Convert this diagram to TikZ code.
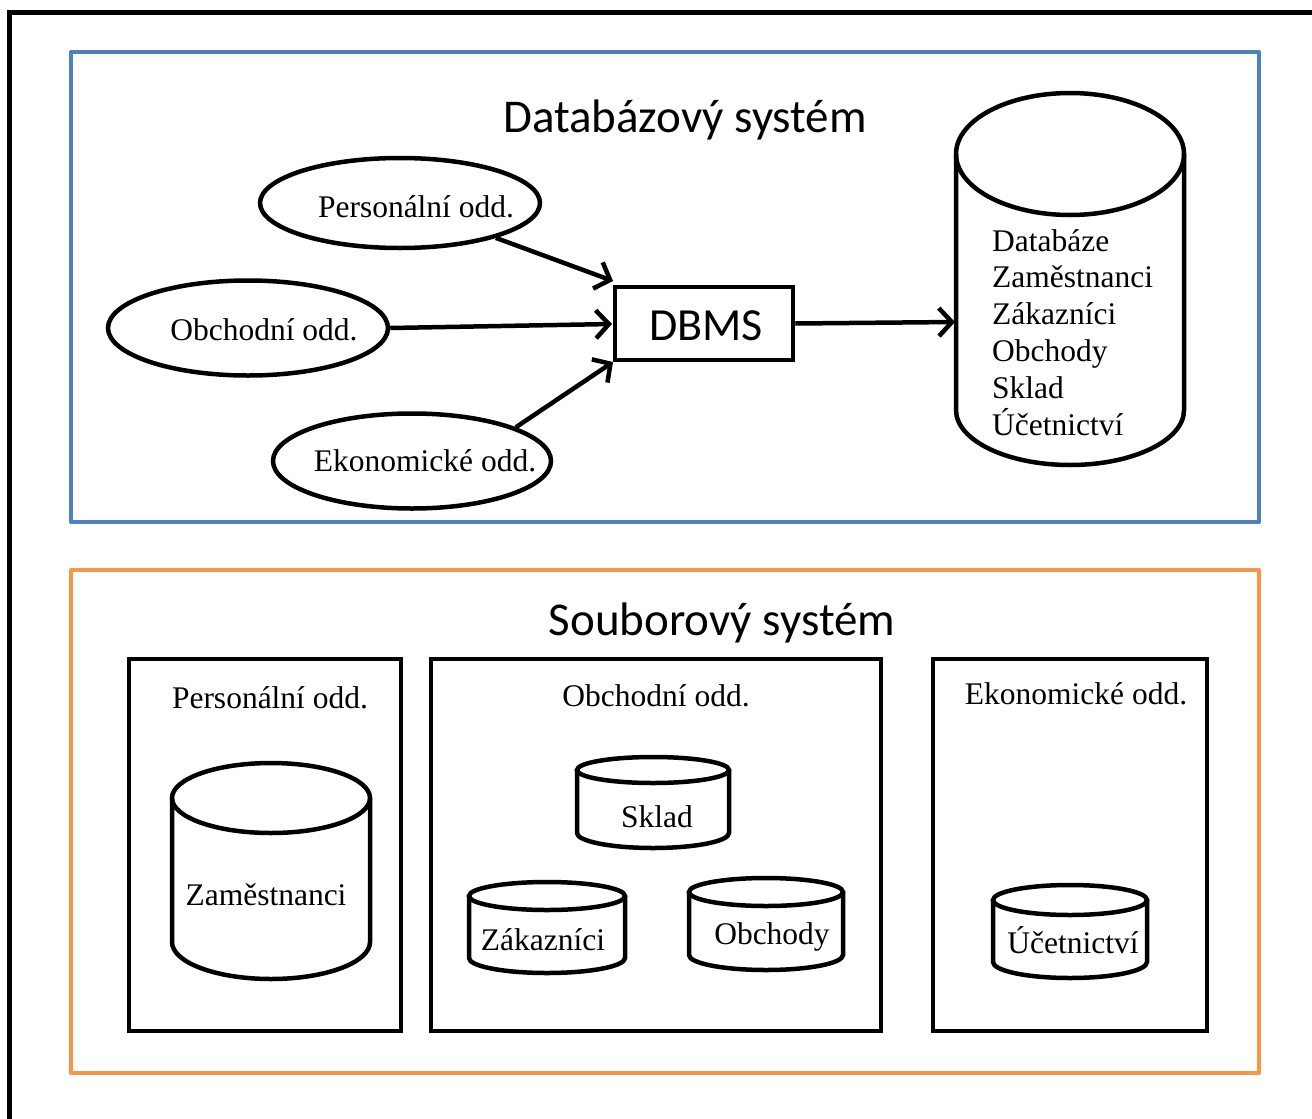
\documentclass[tikz,border=0pt]{standalone}
\usepackage{fontspec}
\setmainfont{Liberation Serif}
\newfontfamily\calibri{Carlito}
\usetikzlibrary{shapes.geometric,arrows.meta}
\definecolor{dbblue}{HTML}{4F81BD}
\definecolor{fsorange}{HTML}{F79646}
\newcommand\dbcyl[6]{%
  \draw[blk] (#1,#3) ellipse [x radius=#2pt, y radius=#4pt];
  \draw[blk] (#1-#2,#3) -- (#1-#2,#5) arc[start angle=180, end angle=360, x radius=#2pt, y radius=#6pt] -- (#1+#2,#3);
}
\tikzset{
  blk/.style={line width=4.5pt, draw=black},
  txt/.style={font=\fontsize{31.5}{36.8}\selectfont, inner sep=0pt},
  ttl/.style={font=\calibri\fontsize{47}{52}\selectfont, inner sep=0pt},
  oval/.style={ellipse, blk, inner sep=0pt},
  arr/.style={line width=4.5pt, -{Straight Barb[length=13pt,width=28pt]}},
  panel/.style={line width=4pt, line join=round}
}
\begin{document}
\begin{tikzpicture}[x=1pt,y=-1pt]
\useasboundingbox (0,0) rectangle (1312,1119);
% outer frame
\draw[line width=5pt] (9,1119) -- (9,12) -- (1312,12);
% panels
\draw[panel, draw=dbblue] (71,52) rectangle (1259,522);
\draw[panel, draw=fsorange] (71,570) rectangle (1259,1073);
% titles
\node[ttl] (t1) at (685,120) {Databázový systém};
\node[ttl] (t2) at (722,623) {Souborový systém};
% ellipses
\node[oval, minimum width=280pt, minimum height=90pt] (pe) at (400,203) {};
\node[txt] (pet) at (416,207) {Personální odd.};
\node[oval, minimum width=280pt, minimum height=95pt] (oe) at (248,328) {};
\node[txt] (oet) at (264,330) {Obchodní odd.};
\node[oval, minimum width=278pt, minimum height=95pt] (ee) at (412,461) {};
\node[txt] (eet) at (425,461) {Ekonomické odd.};
% DBMS
\node[blk, minimum width=178pt, minimum height=73pt, inner sep=0pt] (dbms) at (704,323.5) {};
\node[ttl, font=\calibri\fontsize{46}{50}\selectfont] (dbmst) at (706,326) {DBMS};
% big cylinder
\dbcyl{1070}{114}{154}{61}{410}{55}
\coordinate (cylL) at (955,322);
\node[txt, anchor=north west, align=left] (dbt) at (992,229) {Databáze\\Zaměstnanci\\Zákazníci\\Obchody\\Sklad\\Účetnictví};
% arrows
\coordinate (pT) at (613,281);
\coordinate (oT) at (612,324);
\coordinate (eT) at (613,362);
\draw[arr] (pe.-20) -- (pT);
\draw[arr] (oe.east) -- (oT);
\draw[arr] (ee.18) -- (eT);
\draw[arr] (dbms.east) -- (cylL);
% file system boxes
\node[blk, minimum width=272pt, minimum height=372pt, inner sep=0pt] (b1) at (265,845) {};
\node[blk, minimum width=450pt, minimum height=372pt, inner sep=0pt] (b2) at (656,845) {};
\node[blk, minimum width=274pt, minimum height=372pt, inner sep=0pt] (b3) at (1070,845) {};
\node[txt] (b1t) at (270,698) {Personální odd.};
\node[txt] (b2t) at (656,696) {Obchodní odd.};
\node[txt] (b3t) at (1076,694) {Ekonomické odd.};
% small cylinders
\dbcyl{271}{99}{798}{35}{942}{37}
\node[txt] (zam) at (266,895) {Zaměstnanci};
\dbcyl{653}{76}{770}{13}{833}{15}
\node[txt] (skl) at (657,817) {Sklad};
\dbcyl{547}{78}{896}{14}{958}{15}
\node[txt] (zak) at (543,940) {Zákazníci};
\dbcyl{766}{77}{892}{14}{955}{15}
\node[txt] (obc) at (772,937) {Obchody};
\dbcyl{1070}{77}{900}{15}{962}{16}
\node[txt] (uce) at (1073,940) {Účetnictví};
\end{tikzpicture}
\end{document}
